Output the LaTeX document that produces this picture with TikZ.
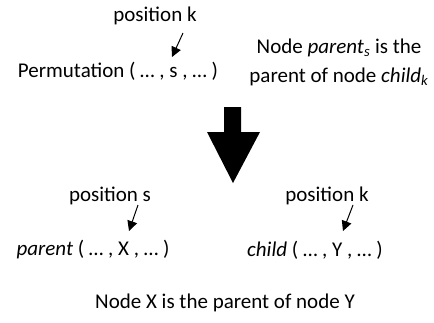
\documentclass[tikz,border=0pt]{standalone}
\usepackage{fontspec}
\setmainfont{Carlito}
\usetikzlibrary{arrows.meta}
\tikzset{
	txt/.style={inner sep=0pt, font=\fontsize{21}{29}\selectfont},
	ptr/.style={-{Triangle[length=10pt, width=10pt]}, line width=1pt}
}

\begin{document}
\begin{tikzpicture}[x=1pt, y=-1pt]
		\useasboundingbox (0,0) rectangle (434,322);
		
		% top: permutation with the pointer to s
		\node[txt] (posk) at (155,16) {position k};
		\node[txt] (perm) at (118,71) {Permutation ( … , s , … )};
		\coordinate (sk) at (172,57);
		\draw[ptr] (183,33) -- (sk);
		
		\node[txt, align=center] (rel) at (339,62) {Node \textit{parent}\textsubscript{\textit{s}} is the\\parent of node \textit{child}\textsubscript{\textit{k}}};
		
		% big arrow
		\fill (224,107) -- (241,107) -- (241,132) -- (260,132) -- (233,183)
			-- (207,132) -- (224,132) -- cycle;
		
		% bottom: parent and child
		\node[txt] (poss) at (110,196) {position s};
		\node[txt] (poskk) at (327,196) {position k};
		\node[txt] (par) at (93,250) {\textit{parent} ( … , X , … )};
		\node[txt] (chi) at (315,250) {\textit{child} ( … , Y , … )};
		\coordinate (xs) at (129,231);
		\coordinate (yk) at (343,231);
		\draw[ptr] (138,205) -- (xs);
		\draw[ptr] (353,205) -- (yk);
		
		\node[txt] (res) at (225,303) {Node X is the parent of node Y};
	\end{tikzpicture}
\end{document}
